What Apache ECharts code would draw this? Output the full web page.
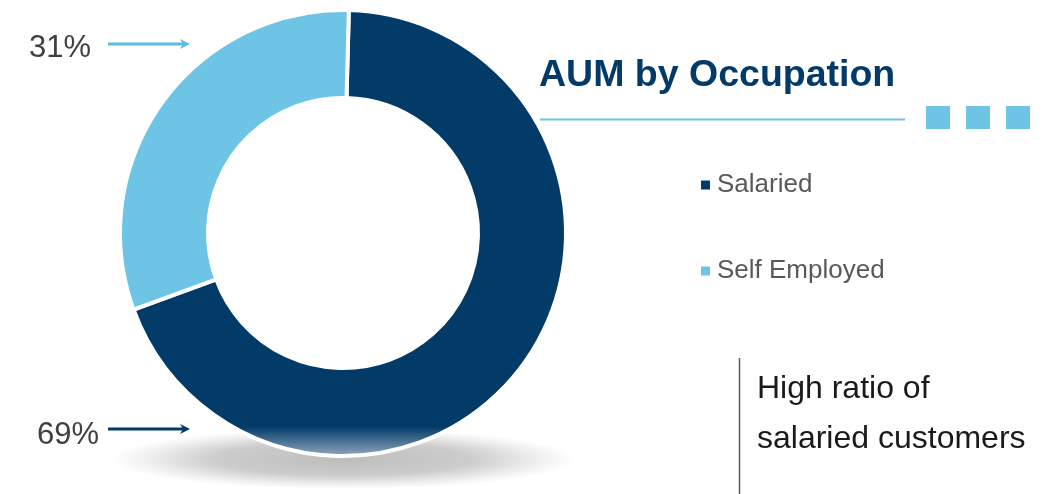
<!DOCTYPE html>
<html>
<head>
<meta charset="utf-8">
<script src="https://cdn.jsdelivr.net/npm/echarts@6/dist/echarts.min.js"></script>
<style>
  html, body { margin: 0; padding: 0; background: #fff; }
  #chart { width: 1045px; height: 494px; }
</style>
</head>
<body>
<div id="chart"></div>
<script>
// AUM split by customer occupation (percent)
const categories = ['Salaried', 'Self Employed'];
const shares = [69, 31];
const colors = ['#023a68', '#6dc4e5'];
const titleText = 'AUM by Occupation';
const noteLines = ['High ratio of', 'salaried customers'];

const FONT = '"Liberation Sans", Arial, sans-serif';
const chart = echarts.init(document.getElementById('chart'), null, { renderer: 'canvas' });

const cx = 343, cy = 233;

// Arrow with a small head, pointing right
function arrow(x1, x2, y, color) {
  return [
    { type: 'line', shape: { x1: x1, y1: y, x2: x2 - 4, y2: y },
      style: { stroke: color, lineWidth: 3 } },
    { type: 'polygon', shape: { points: [[x2 - 10, y - 5], [x2, y], [x2 - 10, y + 5], [x2 - 7, y]] },
      style: { fill: color } }
  ];
}

function label(text, x, y, size, color, weight) {
  return { type: 'text', x: x, y: y,
    style: { text: text, font: (weight || 'normal') + ' ' + size + 'px ' + FONT,
             fill: color, textVerticalAlign: 'middle', textAlign: 'left' } };
}

const graphics = [
  // soft floor shadow below the ring
  { type: 'circle', z: -1, x: cx, y: 459, scaleY: 0.13,
    shape: { cx: 0, cy: 0, r: 232 },
    style: { fill: new echarts.graphic.RadialGradient(0.5, 0.5, 0.5, [
      { offset: 0, color: 'rgba(0,0,0,0.26)' },
      { offset: 0.55, color: 'rgba(0,0,0,0.2)' },
      { offset: 0.85, color: 'rgba(0,0,0,0.06)' },
      { offset: 1, color: 'rgba(0,0,0,0)' }
    ]) } },
  // title, rule and squares
  label(titleText, 539, 76, 37.5, '#023a68', 'bold'),
  { type: 'line', shape: { x1: 540, y1: 119.5, x2: 905, y2: 119.5 },
    style: { stroke: '#6dc4e5', lineWidth: 2 } },
  { type: 'rect', shape: { x: 926, y: 106, width: 24, height: 23 }, style: { fill: '#6dc4e5' } },
  { type: 'rect', shape: { x: 966, y: 106, width: 24, height: 23 }, style: { fill: '#6dc4e5' } },
  { type: 'rect', shape: { x: 1006, y: 106, width: 24, height: 23 }, style: { fill: '#6dc4e5' } },
  // percentage callouts
  label(shares[1] + '%', 29, 48, 31, '#404040'),
  label(shares[0] + '%', 37, 435, 31, '#404040'),
  ...arrow(108, 190, 44, '#5cbde2'),
  ...arrow(108, 190, 429, '#023a68'),
  // side note
  { type: 'line', shape: { x1: 739.5, y1: 358, x2: 739.5, y2: 494 },
    style: { stroke: '#595959', lineWidth: 1.5 } },
  label(noteLines[0], 757, 389, 32, '#1a1a1a'),
  label(noteLines[1], 757, 439, 32, '#1a1a1a')
];

chart.setOption({
  backgroundColor: '#ffffff',
  animation: false,
  legend: {
    orient: 'vertical',
    left: 694,
    top: 167,
    itemGap: 60,
    itemWidth: 11,
    itemHeight: 11,
    icon: 'rect',
    textStyle: { fontFamily: FONT, fontSize: 26, color: '#595959', padding: [0, 0, 0, 1] },
    data: categories
  },
  graphic: graphics,
  series: [{
    type: 'pie',
    center: [cx, cy],
    radius: [135, 223],
    startAngle: 88.5,
    clockwise: true,
    label: { show: false },
    labelLine: { show: false },
    emphasis: { disabled: true },
    itemStyle: { borderColor: '#ffffff', borderWidth: 4 },
    data: categories.map((name, i) => ({
      name: name,
      value: shares[i],
      itemStyle: {
        color: i === 0
          ? new echarts.graphic.LinearGradient(0, 0, 0, 1, [
              { offset: 0, color: colors[0] },
              { offset: 0.93, color: colors[0] },
              { offset: 1, color: '#9aaec3' }
            ])
          : colors[1]
      }
    }))
  }]
});
</script>
</body>
</html>
